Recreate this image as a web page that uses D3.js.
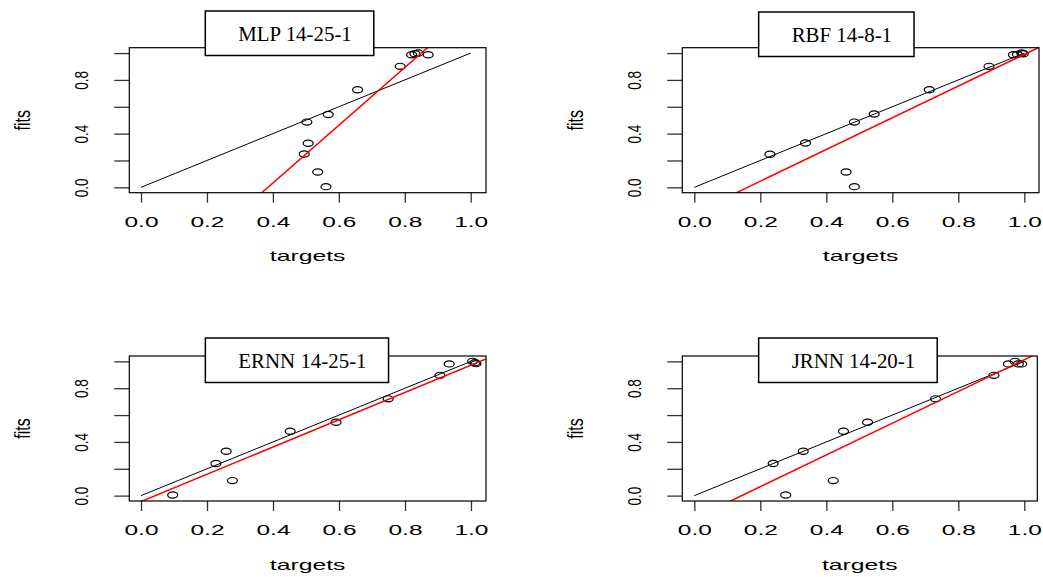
<!DOCTYPE html>
<html>
<head>
<meta charset="utf-8">
<script src="https://cdn.jsdelivr.net/npm/d3@7"></script>
<style>
  body { margin: 0; background: #fff; }
  svg { display: block; }
  .tick line { stroke: #333; stroke-width: 1.3; }
  .tick text { font-family: "Liberation Sans", Arial, sans-serif; fill: #000; }
</style>
</head>
<body>
<div id="chart"></div>
<script>
// ---- data ----
const titles = ["MLP 14-25-1", "RBF 14-8-1", "ERNN 14-25-1", "JRNN 14-20-1"];

const mlpTargets  = [0.821, 0.831, 0.841, 0.871, 0.786, 0.657, 0.568, 0.503, 0.507, 0.495, 0.536, 0.561];
const mlpFits     = [0.987, 0.995, 1.000, 0.987, 0.901, 0.727, 0.543, 0.486, 0.328, 0.248, 0.114, 0.005];
const rbfTargets  = [0.967, 0.979, 0.992, 0.997, 0.893, 0.712, 0.545, 0.485, 0.337, 0.229, 0.460, 0.485];
const rbfFits     = [0.987, 0.990, 1.000, 0.995, 0.901, 0.727, 0.546, 0.486, 0.330, 0.246, 0.114, 0.005];
const ernnTargets = [1.005, 1.015, 0.934, 0.906, 0.749, 0.591, 0.452, 0.258, 0.227, 0.277, 0.096, 1.012];
const ernnFits    = [1.000, 0.983, 0.981, 0.896, 0.721, 0.547, 0.480, 0.331, 0.239, 0.112, 0.005, 0.990];
const jrnnTargets = [0.952, 0.972, 0.982, 0.992, 0.908, 0.731, 0.525, 0.452, 0.330, 0.239, 0.421, 0.277];
const jrnnFits    = [0.981, 1.000, 0.981, 0.981, 0.896, 0.721, 0.547, 0.480, 0.331, 0.239, 0.112, 0.005];

// fitted (red) lines: fits = intercept + slope * targets
const fitSlopes     = [2.15, 1.181, 1.015, 1.182];
const fitIntercepts = [-0.828, -0.191, -0.044, -0.170];

// reference (black) line
const refLine = [[0, 0], [1, 1]];

const xTicks = [0, 0.2, 0.4, 0.6, 0.8, 1.0];
const yTicks = [0, 0.2, 0.4, 0.6, 0.8, 1.0];
const yTickLabels = [0, 0.4, 0.8];

const xDomains = [[-0.0355, 1.0464], [-0.0364, 1.0445], [-0.0355, 1.0455], [-0.0364, 1.0394]];
const yDomain = [-0.04, 1.04];

const series = [
  [mlpTargets, mlpFits],
  [rbfTargets, rbfFits],
  [ernnTargets, ernnFits],
  [jrnnTargets, jrnnFits]
];

// ---- layout ----
const W = 1043, H = 577;
const boxes = [
  {x0: 129.3, x1: 486,    y0: 47.7, y1: 192.7, legTop: 11},
  {x0: 682.3, x1: 1039,   y0: 47.7, y1: 192.7, legTop: 12},
  {x0: 129.3, x1: 486,    y0: 356,  y1: 501,   legTop: 338},
  {x0: 682.3, x1: 1037.3, y0: 356,  y1: 501,   legTop: 338}
];

const svg = d3.select("#chart").append("svg")
  .attr("width", W)
  .attr("height", H);

const defs = svg.append("defs");

boxes.forEach(function(b, i) {
  let x = d3.scaleLinear().domain(xDomains[i]).range([b.x0, b.x1]);
  let y = d3.scaleLinear().domain(yDomain).range([b.y1, b.y0]);
  let g = svg.append("g").attr("class", "panel");

  defs.append("clipPath").attr("id", "clip" + i)
    .append("rect")
    .attr("x", b.x0).attr("y", b.y0)
    .attr("width", b.x1 - b.x0).attr("height", b.y1 - b.y0);

  // x axis
  let gx = g.append("g")
    .attr("transform", "translate(0," + b.y1 + ")")
    .call(d3.axisBottom(x).tickValues(xTicks).tickSize(10).tickSizeOuter(0)
      .tickFormat(d3.format(".1f")));
  gx.select(".domain").remove();
  gx.selectAll(".tick text")
    .attr("y", 0).attr("dy", null)
    .attr("font-size", 15)
    .attr("transform", "translate(0,34) scale(1.63,1)");

  // y axis
  let gy = g.append("g")
    .attr("transform", "translate(" + b.x0 + ",0)")
    .call(d3.axisLeft(y).tickValues(yTicks).tickSize(15).tickSizeOuter(0)
      .tickFormat(function(d) { return yTickLabels.indexOf(d) >= 0 ? d3.format(".1f")(d) : ""; }));
  gy.select(".domain").remove();
  gy.selectAll(".tick text")
    .attr("x", null).attr("dy", null)
    .attr("font-size", 13.5)
    .attr("text-anchor", "middle")
    .attr("transform", "translate(-41,0) scale(1.4,1) rotate(-90)");

  // axis titles
  g.append("text")
    .attr("font-family", "Liberation Sans, Arial, sans-serif")
    .attr("font-size", 15)
    .attr("text-anchor", "middle")
    .attr("transform", "translate(" + ((b.x0 + b.x1) / 2) + "," + (b.y1 + 68.5) + ") scale(1.65,1)")
    .text("targets");

  g.append("text")
    .attr("font-family", "Liberation Sans, Arial, sans-serif")
    .attr("font-size", 16)
    .attr("text-anchor", "middle")
    .attr("transform", "translate(" + (b.x0 - 99) + "," + ((b.y0 + b.y1) / 2) + ") scale(1.4,1) rotate(-90)")
    .text("fits");

  // points
  let pts = series[i][0].map(function(t, k) { return {t: t, f: series[i][1][k]}; });
  g.append("g").selectAll("ellipse")
    .data(pts)
    .enter().append("ellipse")
    .attr("cx", function(d) { return x(d.t); })
    .attr("cy", function(d) { return y(d.f); })
    .attr("rx", 5)
    .attr("ry", 3.1)
    .attr("fill", "none")
    .attr("stroke", "#000")
    .attr("stroke-width", 1.2);

  // reference line
  g.append("path")
    .attr("d", d3.line().x(function(d) { return x(d[0]); }).y(function(d) { return y(d[1]); })(refLine))
    .attr("fill", "none")
    .attr("stroke", "#000")
    .attr("stroke-width", 1);

  // fitted line, clipped to plot region
  let xs = xDomains[i];
  let fitPts = xs.map(function(v) { return [v, fitIntercepts[i] + fitSlopes[i] * v]; });
  g.append("path")
    .attr("clip-path", "url(#clip" + i + ")")
    .attr("d", d3.line().x(function(d) { return x(d[0]); }).y(function(d) { return y(d[1]); })(fitPts))
    .attr("fill", "none")
    .attr("stroke", "#ff0000")
    .attr("stroke-width", 1.5);

  // plot box
  g.append("rect")
    .attr("x", b.x0).attr("y", b.y0)
    .attr("width", b.x1 - b.x0).attr("height", b.y1 - b.y0)
    .attr("fill", "none")
    .attr("stroke", "#000")
    .attr("stroke-width", 1.2);

  // title legend box
  let leg = g.append("g");
  let legRect = leg.append("rect");
  let legLeft = x(0.195);
  let legText = leg.append("text")
    .attr("font-family", "Liberation Serif, Times New Roman, serif")
    .attr("font-size", 22)
    .attr("transform", "translate(" + (legLeft + 33) + "," + (b.legTop + 30) + ") scale(0.95,1)")
    .text(titles[i]);
  let tw = legText.node().getComputedTextLength() * 0.95;
  legRect
    .attr("x", legLeft).attr("y", b.legTop)
    .attr("width", tw + 33 + 22).attr("height", 44.5)
    .attr("fill", "#fff")
    .attr("stroke", "#000")
    .attr("stroke-width", 1.5);
});
</script>
</body>
</html>
